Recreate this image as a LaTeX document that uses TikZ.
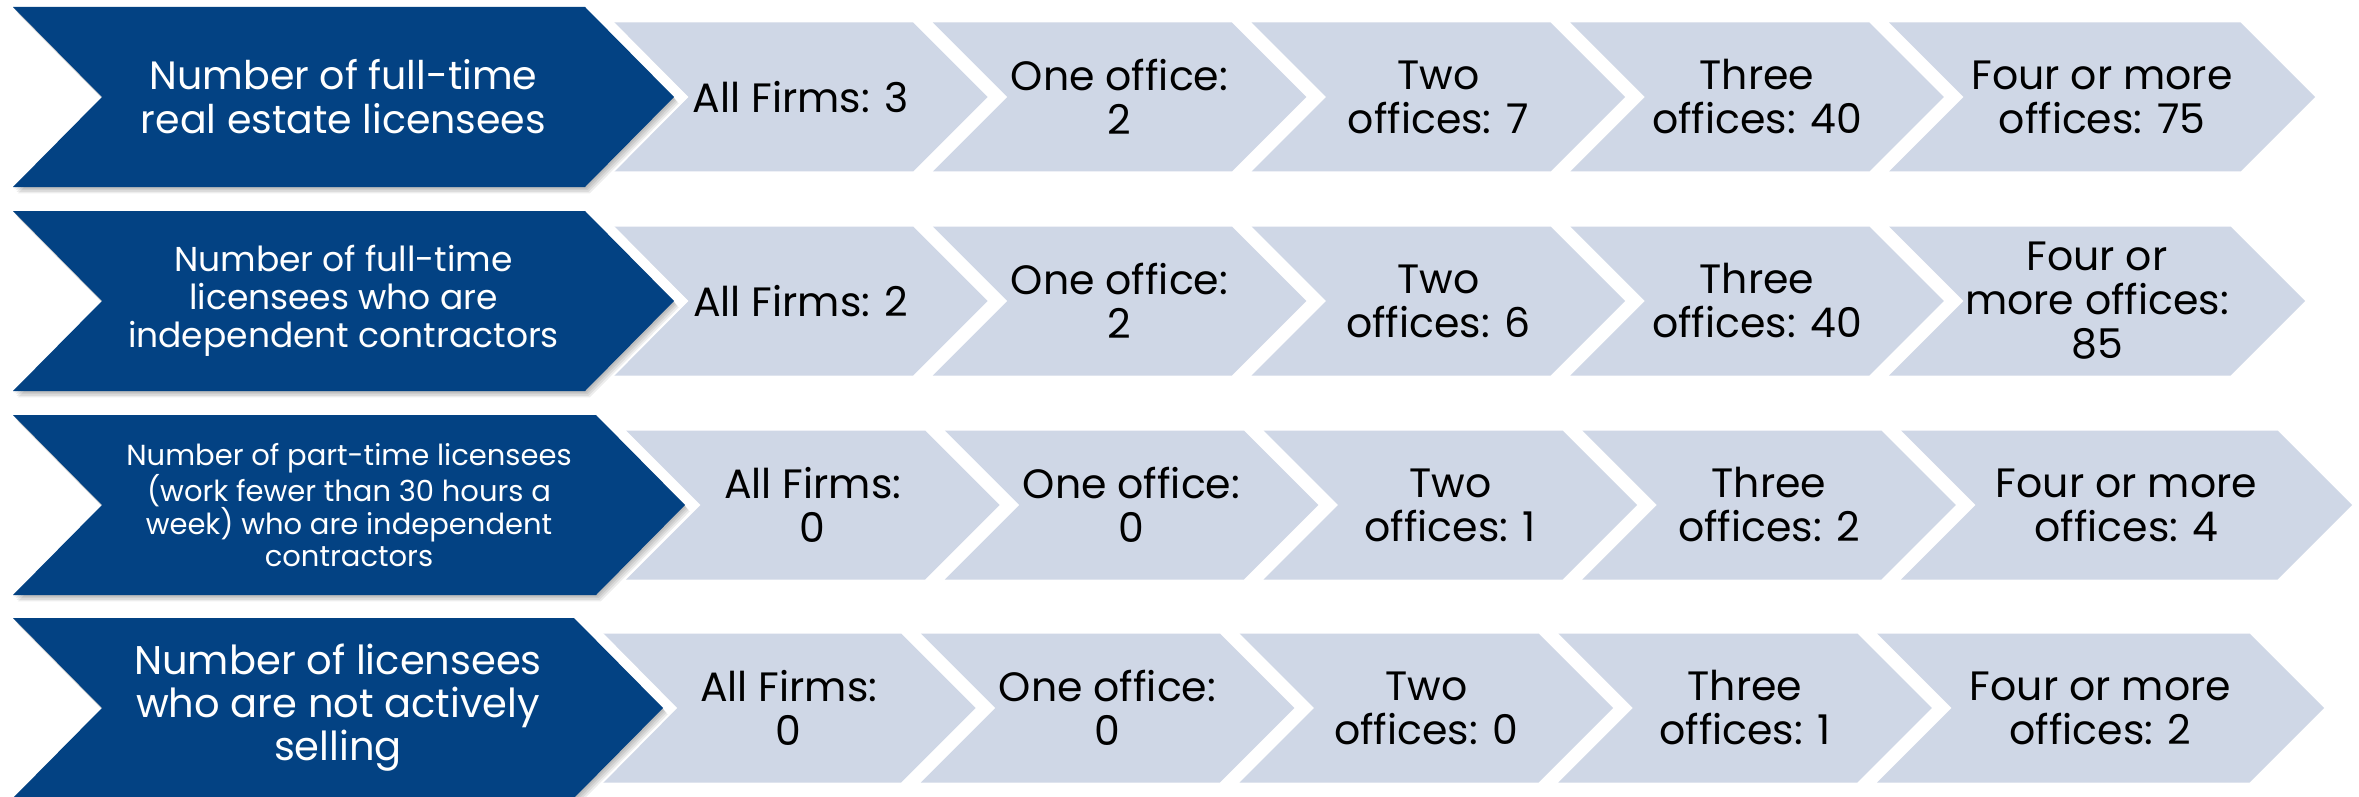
\documentclass[tikz,border=0pt]{standalone}
\usepackage{fontspec}
\setmainfont{Poppins}
\definecolor{darkblue}{HTML}{034283}
\definecolor{lightblue}{HTML}{CFD7E6}
\tikzset{
  lighttext/.style={text=black, align=center, inner sep=0pt, font=\fontsize{41}{44}\selectfont},
  darktext/.style={text=white, align=center, inner sep=0pt},
}
\newcommand\lightchev[5]{% name, L, R, mid, text
  \fill[lightblue] (#2,#4-74.5) -- (#3,#4-74.5) -- (#3+74.5,#4) -- (#3,#4+74.5) -- (#2,#4+74.5) -- (#2+74.5,#4) -- cycle;
  \node[lighttext] (#1) at ({(#2+74.5+#3)/2},#4) {#5};
}
\newcommand\lightrow[9]{% name, mid, shift, lastR, t0..t4
  \foreach \ci/\txt in {0/{#5},1/{#6},2/{#7},3/{#8}}{%
    \pgfmathsetmacro\Lx{614+#3+318.75*\ci}
    \pgfmathsetmacro\Rx{\Lx+299}
    \lightchev{#1c\ci}{\Lx}{\Rx}{#2}{\txt}
  }
  \pgfmathsetmacro\Lx{614+#3+318.75*4}
  \lightchev{#1c4}{\Lx}{#4}{#2}{#9}
}
\newcommand\darkpath[2]{(13,#1-90) -- (585+#2,#1-90) -- (674+#2,#1) -- (585+#2,#1+90) -- (13,#1+90) -- (102,#1) -- cycle}
\newcommand\darkchev[5]{% name, mid, right shift, font, text
  \draw[white, line width=20, line join=miter] \darkpath{#2}{#3};
  \foreach \k in {1,2,3,4}{
    \fill[black, opacity=0.07, shift={(\k*1.2,\k*1.6)}] \darkpath{#2}{#3};
  }
  \fill[darkblue] \darkpath{#2}{#3};
  \node[darktext, font=#4] (#1) at ({(102+585+#3)/2},#2) {#5};
}
\begin{document}
\begin{tikzpicture}[x=1pt,y=-1pt]
\useasboundingbox (0,0) rectangle (2359,797);
\fill[white] (0,0) rectangle (2359,797);
% row 1
\lightrow{ra}{97}{0}{2240.5}{All Firms: 3}{One office:\\2}{Two\\offices: 7}{Three\\offices: 40}{Four or more\\offices: 75}
\darkchev{da}{97}{0}{\fontsize{39.5}{44}\selectfont}{Number of full-time\\real estate licensees}
% row 2
\lightrow{rb}{301}{0}{2230.5}{All Firms: 2}{One office:\\2}{Two\\offices: 6}{Three\\offices: 40}{Four or\\more offices:\\85}
\darkchev{db}{301}{0}{\fontsize{34.5}{38}\selectfont}{Number of full-time\\licensees who are\\independent contractors}
% row 3
\lightrow{rc}{505}{12}{2277.5}{All Firms:\\0}{One office:\\0}{Two\\offices: 1}{Three\\offices: 2}{Four or more\\offices: 4}
\darkchev{dc}{505}{11}{\fontsize{29}{32}\selectfont}{Number of part-time licensees\\(work fewer than 30 hours a\\week) who are independent\\contractors}
% row 4
\lightrow{rd}{708}{-12}{2249.5}{All Firms:\\0}{One office:\\0}{Two\\offices: 0}{Three\\offices: 1}{Four or more\\offices: 2}
\darkchev{dd}{708}{-11}{\fontsize{40}{43}\selectfont}{Number of licensees\\who are not actively\\selling}
\end{tikzpicture}
\end{document}
